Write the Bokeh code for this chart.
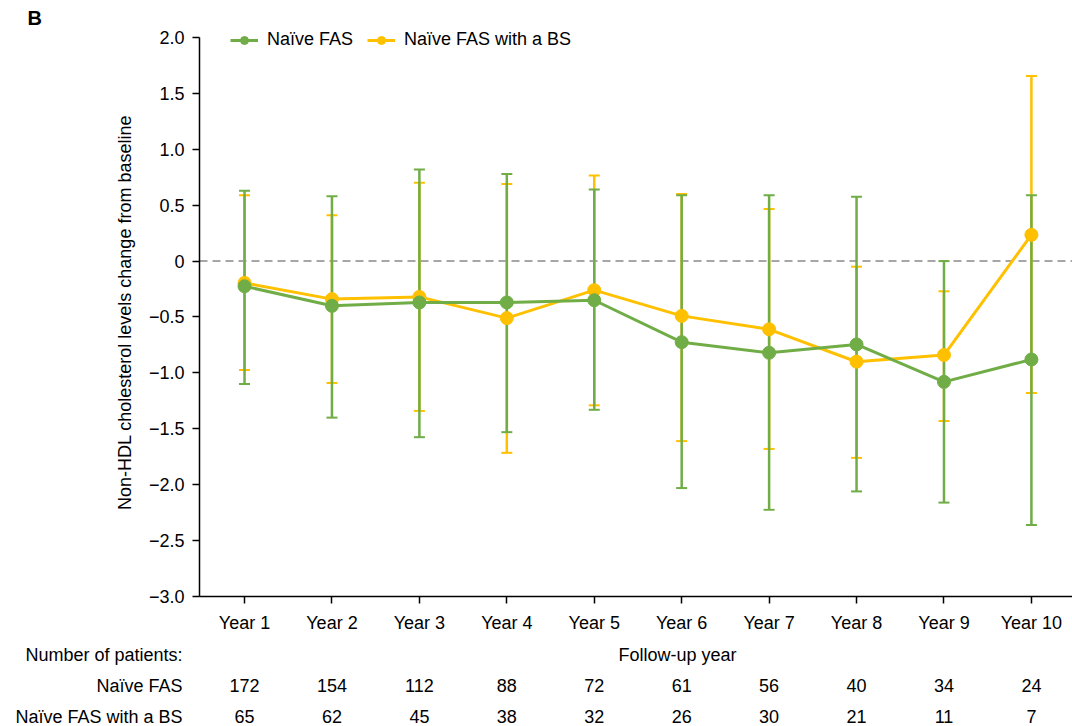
from bokeh.plotting import figure
from bokeh.layouts import column
from bokeh.models import (ColumnDataSource, Whisker, TeeHead, Span, Legend,
                          LegendItem, FixedTicker, Range1d)
from bokeh.core.properties import value
from bokeh.embed import file_html
from bokeh.resources import INLINE

# ---------------- data ----------------
years = ["Year 1", "Year 2", "Year 3", "Year 4", "Year 5",
         "Year 6", "Year 7", "Year 8", "Year 9", "Year 10"]
x_pos = [1, 2, 3, 4, 5, 6, 7, 8, 9, 10]

fas_mean = [-0.225, -0.40, -0.37, -0.37, -0.35, -0.725, -0.82, -0.745, -1.08, -0.88]
fas_upper = [0.63, 0.58, 0.82, 0.78, 0.64, 0.59, 0.59, 0.575, 0.0, 0.59]
fas_lower = [-1.10, -1.40, -1.575, -1.53, -1.33, -2.03, -2.225, -2.06, -2.16, -2.36]

bs_mean = [-0.195, -0.34, -0.32, -0.51, -0.26, -0.49, -0.61, -0.90, -0.84, 0.235]
bs_upper = [0.59, 0.41, 0.70, 0.69, 0.765, 0.60, 0.465, -0.05, -0.27, 1.655]
bs_lower = [-0.975, -1.09, -1.34, -1.715, -1.29, -1.61, -1.68, -1.76, -1.43, -1.18]

n_fas = [172, 154, 112, 88, 72, 61, 56, 40, 34, 24]
n_bs = [65, 62, 45, 38, 32, 26, 30, 21, 11, 7]

y_ticks = [-3.0, -2.5, -2.0, -1.5, -1.0, -0.5, 0.0, 0.5, 1.0, 1.5, 2.0]
y_tick_labels = ["\u22123.0", "\u22122.5", "\u22122.0", "\u22121.5", "\u22121.0", "\u22120.5",
                 "0", "0.5", "1.0", "1.5", "2.0"]

series_names = ["Na\u00efve FAS", "Na\u00efve FAS with a BS"]
table_title = "Number of patients:"
x_title = "Follow-up year"
y_title = "Non-HDL cholesterol levels change from baseline"
panel_letter = "B"

GREEN = "#70AD47"
YELLOW = "#FFC000"
FONT = "Liberation Sans"
FS = "18px"

# ---------------- layout constants ----------------
W = 1072
MAIN_H = 640
TABLE_H = 86
LEFT = 199
TOP = 28
X0, X1 = 0.485, 10.47
Y_TOP = 2.0805
px_per_x = (W - LEFT) / (X1 - X0)

# ---------------- main chart ----------------
p = figure(width=W, height=MAIN_H, output_backend="svg", toolbar_location=None,
           x_range=Range1d(X0, X1), y_range=Range1d(-3.0, Y_TOP),
           min_border_left=LEFT, min_border_right=0, min_border_top=TOP,
           min_border_bottom=44)
p.outline_line_color = None
p.xgrid.visible = False
p.ygrid.visible = False

p.title.text = panel_letter
p.title.align = "left"
p.title.offset = 27 - LEFT
p.title.standoff = 0
p.title.text_font = FONT
p.title.text_font_size = "20px"
p.title.text_font_style = "bold"
p.title.text_color = "black"

p.xaxis.ticker = FixedTicker(ticks=x_pos)
p.xaxis.major_label_overrides = {x: lab for x, lab in zip(x_pos, years)}
p.yaxis.ticker = FixedTicker(ticks=y_ticks)
p.yaxis.major_label_overrides = {t: lab for t, lab in zip(y_ticks, y_tick_labels)}
p.yaxis.bounds = (-3.0, 2.0)
for ax in (p.xaxis[0], p.yaxis[0]):
    ax.axis_line_color = "black"
    ax.axis_line_width = 1.5
    ax.major_tick_line_color = "black"
    ax.major_tick_line_width = 1.5
    ax.major_tick_in = 0
    ax.major_tick_out = 7
    ax.minor_tick_line_color = None
    ax.major_label_text_font = FONT
    ax.major_label_text_font_size = FS
    ax.major_label_text_color = "black"
p.xaxis.major_label_standoff = 9
p.yaxis.major_label_standoff = 8
p.yaxis.axis_label = y_title
p.yaxis.axis_label_text_font = FONT
p.yaxis.axis_label_text_font_size = FS
p.yaxis.axis_label_text_font_style = "normal"
p.yaxis.axis_label_text_color = "black"
p.yaxis.axis_label_standoff = 11

p.add_layout(Span(location=0, dimension="width", line_color="#A6A6A6",
                  line_dash="8 5", line_width=2, level="underlay"))

src_fas = ColumnDataSource(dict(x=x_pos, mean=fas_mean, upper=fas_upper, lower=fas_lower))
src_bs = ColumnDataSource(dict(x=x_pos, mean=bs_mean, upper=bs_upper, lower=bs_lower))

for src, col in ((src_bs, YELLOW), (src_fas, GREEN)):
    p.add_layout(Whisker(source=src, base="x", upper="upper", lower="lower",
                         line_color=col, line_width=2.5, level="underlay",
                         upper_head=TeeHead(size=11, line_color=col, line_width=2),
                         lower_head=TeeHead(size=11, line_color=col, line_width=2)))

l_bs = p.line("x", "mean", source=src_bs, line_color=YELLOW, line_width=3)
c_bs = p.scatter("x", "mean", source=src_bs, size=13, fill_color=YELLOW, line_color=YELLOW)
l_fas = p.line("x", "mean", source=src_fas, line_color=GREEN, line_width=3)
c_fas = p.scatter("x", "mean", source=src_fas, size=13, fill_color=GREEN, line_color=GREEN)

legend = Legend(items=[LegendItem(label=series_names[0], renderers=[l_fas, c_fas]),
                       LegendItem(label=series_names[1], renderers=[l_bs, c_bs])],
                orientation="horizontal", location=(31, 546),
                label_text_font=FONT, label_text_font_size=FS, label_text_color="black",
                glyph_width=28, glyph_height=20, label_height=20, label_standoff=9,
                spacing=14, padding=0, margin=0,
                border_line_alpha=0, background_fill_alpha=0)
p.add_layout(legend)

# ---------------- patient table ----------------
row_y = [14, 45, 76]
tb = figure(width=W, height=TABLE_H, output_backend="svg", toolbar_location=None,
            x_range=Range1d(X0, X1), y_range=Range1d(TABLE_H, 0),
            x_axis_location=None, y_axis_location="left",
            min_border_left=LEFT, min_border_right=0,
            min_border_top=0, min_border_bottom=0)
tb.outline_line_color = None
tb.grid.visible = False
tb.yaxis.ticker = FixedTicker(ticks=row_y)
tb.yaxis.major_label_overrides = {row_y[0]: table_title, row_y[1]: series_names[0],
                                  row_y[2]: series_names[1]}
tb.yaxis.axis_line_color = None
tb.yaxis.major_tick_line_color = None
tb.yaxis.minor_tick_line_color = None
tb.yaxis.major_tick_in = 0
tb.yaxis.major_tick_out = 0
tb.yaxis.major_label_standoff = 17
tb.yaxis.major_label_text_font = FONT
tb.yaxis.major_label_text_font_size = FS
tb.yaxis.major_label_text_color = "black"

txt = dict(text_font=value(FONT), text_font_size=value(FS), text_color="black",
           text_baseline="middle", text_align="center")
title_x = X0 + (677 - LEFT) / px_per_x
tb.text(x=[title_x], y=[row_y[0]], text=[x_title], **txt)
tsrc = ColumnDataSource(dict(x=x_pos, y1=[row_y[1]] * len(x_pos), y2=[row_y[2]] * len(x_pos),
                             n1=[str(v) for v in n_fas], n2=[str(v) for v in n_bs]))
tb.text(x="x", y="y1", text="n1", source=tsrc, **txt)
tb.text(x="x", y="y2", text="n2", source=tsrc, **txt)

layout = column(p, tb, spacing=0)
open("out.html", "w").write(file_html(layout, INLINE))
